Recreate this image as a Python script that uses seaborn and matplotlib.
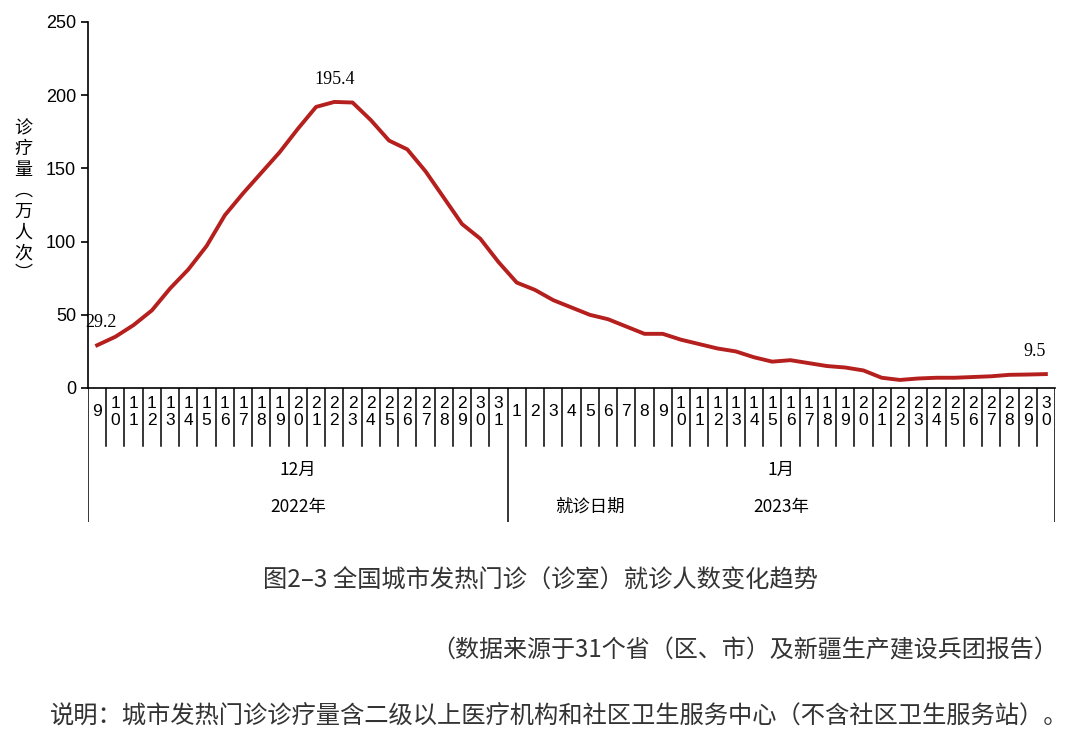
import matplotlib
matplotlib.use('Agg')
import matplotlib.pyplot as plt
import seaborn as sns
import pandas as pd

# data
dec_days = list(range(9, 32))
jan_days = list(range(1, 31))
values = [29.2, 35, 43, 53, 68, 81, 97, 118, 133, 147, 161, 177, 192, 195.4, 195, 183,
          169, 163, 148, 130, 112, 102, 86,
          72, 67, 60, 55, 50, 47, 42, 37, 37, 33, 30, 27, 25, 21, 18, 19, 17, 15, 14, 12,
          7, 5.5, 6.5, 7, 7, 7.5, 8, 9, 9.2, 9.5]
day_labels = [str(d) for d in dec_days + jan_days]
month_labels = ['12月', '1月']
year_labels = ['2022年', '2023年']

cjk = 'Noto Sans CJK SC'
W, H = 1080, 743
fig = plt.figure(figsize=(W / 100, H / 100), dpi=100)
x0, x1, ytop, ybot = 88, 1055, 22, 388
ax = fig.add_axes([x0 / W, 1 - ybot / H, (x1 - x0) / W, (ybot - ytop) / H])

df = pd.DataFrame({'i': range(len(values)), 'v': values})
sns.lineplot(data=df, x='i', y='v', ax=ax, color='#b5201e', linewidth=2.8)
n = len(values)
ax.set_xlim(-0.5, n - 0.5)
ax.set_ylim(0, 250)
ax.set_yticks(range(0, 251, 50))
ax.set_xticks([])
ax.set_xlabel('')
ax.set_ylabel('')
for s in ['top', 'right']:
    ax.spines[s].set_visible(False)
ax.spines['left'].set_linewidth(1.2)
ax.spines['bottom'].set_linewidth(1.2)
ax.tick_params(axis='y', labelsize=13, length=5, width=1.2)
for t in ax.get_yticklabels():
    t.set_fontfamily('Liberation Sans')

for idx, off in [(0, (3, 10)), (13, (0, 10)), (n - 1, (-8, 10))]:
    ax.annotate(f'{values[idx]:g}', (idx, values[idx]), xytext=off, textcoords='offset points',
                ha='center', va='bottom', fontsize=13, fontfamily='Liberation Serif')

ax.text(-0.067, 0.51, '诊\n疗\n量\n︵\n万\n人\n次\n︶', transform=ax.transAxes, ha='center',
        va='center', fontsize=13, fontfamily=cjk, linespacing=1.2)

# category table below axis
ax2 = fig.add_axes([x0 / W, 1 - 522 / H, (x1 - x0) / W, (522 - ybot) / H])
ax2.set_xlim(-0.5, n - 0.5)
ax2.set_ylim(522, ybot)
ax2.axis('off')
for i in range(n + 1):
    xb = i - 0.5
    full = i in (0, 23, n)
    ax2.plot([xb, xb], [ybot, 522 if full else 446], color='black', lw=1.1)
for i, lab in enumerate(day_labels):
    ax2.text(i, 412, '\n'.join(lab), ha='center', va='center', fontsize=12.5,
             fontfamily='Liberation Sans', linespacing=1.15)
ax2.text(11, 470, month_labels[0], ha='center', va='center', fontsize=12.5, fontfamily=cjk)
ax2.text(37.5, 470, month_labels[1], ha='center', va='center', fontsize=12.5, fontfamily=cjk)
ax2.text(11, 507, year_labels[0], ha='center', va='center', fontsize=12.5, fontfamily=cjk)
ax2.text(37.5, 507, year_labels[1], ha='center', va='center', fontsize=12.5, fontfamily=cjk)
ax2.text(27, 507, '就诊日期', ha='center', va='center', fontsize=12.5, fontfamily=cjk)

fig.text(540 / W, 1 - 581 / H, '图2–3 全国城市发热门诊（诊室）就诊人数变化趋势', ha='center',
         va='center', fontsize=17.5, fontfamily=cjk, color='#333333')
fig.text(1058 / W, 1 - 650 / H, '（数据来源于31个省（区、市）及新疆生产建设兵团报告）', ha='right',
         va='center', fontsize=17.3, fontfamily=cjk, color='#333333')
fig.text(50 / W, 1 - 717 / H, '说明：城市发热门诊诊疗量含二级以上医疗机构和社区卫生服务中心（不含社区卫生服务站）。',
         ha='left', va='center', fontsize=17.5, fontfamily=cjk, color='#333333')

fig.savefig('out.png', dpi=100, facecolor='white')
